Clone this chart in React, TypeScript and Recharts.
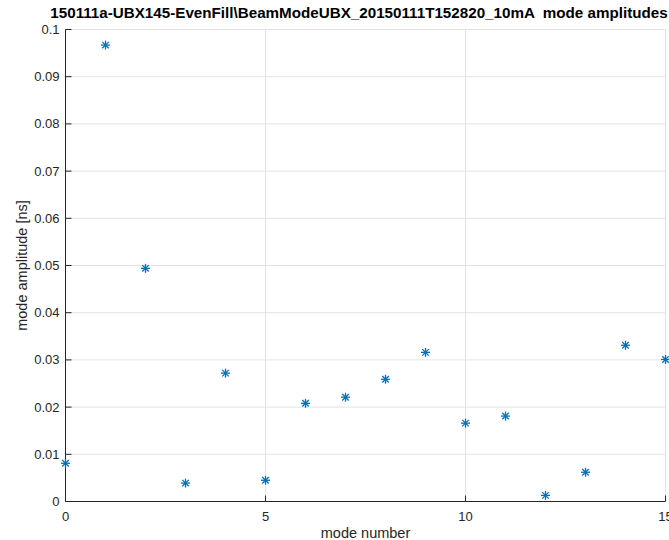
import { ScatterChart, Scatter, XAxis, YAxis, CartesianGrid } from 'recharts'

const modeNumbers = [0, 1, 2, 3, 4, 5, 6, 7, 8, 9, 10, 11, 12, 13, 14, 15]
const amplitudes = [
  0.0081, 0.0967, 0.0494, 0.0039, 0.0272, 0.0045, 0.0208, 0.0221,
  0.0259, 0.0316, 0.0166, 0.0181, 0.0013, 0.0062, 0.0331, 0.0301,
]
const xTicks = [0, 5, 10, 15]
const yTicks = [0, 0.01, 0.02, 0.03, 0.04, 0.05, 0.06, 0.07, 0.08, 0.09, 0.1]

const TITLE = '150111a-UBX145-EvenFill\\BeamModeUBX_20150111T152820_10mA  mode amplitudes'

const data = modeNumbers.map((m, i) => ({ mode: m, amp: amplitudes[i] }))

const W = 669
const H = 540
const LEFT = 65.5
const RIGHT = 665.5
const TOP = 29.5
const BOTTOM = 501.5
const TEXT = '#262626'
const FONT = '"Liberation Sans", Arial, sans-serif'

function Asterisk(props: any) {
  const { cx, cy } = props
  const r = 4.5
  const d = r * 0.72
  return (
    <g stroke="#0072BD" strokeWidth={1.3}>
      <line x1={cx - r} y1={cy} x2={cx + r} y2={cy} />
      <line x1={cx} y1={cy - r} x2={cx} y2={cy + r} />
      <line x1={cx - d} y1={cy - d} x2={cx + d} y2={cy + d} />
      <line x1={cx - d} y1={cy + d} x2={cx + d} y2={cy - d} />
    </g>
  )
}

const fmt = (v: number) => String(+v.toFixed(2))

function YTick(props: any) {
  const { y, payload } = props
  return (
    <g>
      <line x1={LEFT} x2={LEFT + 6} y1={y} y2={y} stroke={TEXT} strokeWidth={1} />
      <text x={LEFT - 6} y={y} dy={4.5} textAnchor="end" fontSize={13} fill={TEXT} fontFamily={FONT}>
        {fmt(payload.value)}
      </text>
    </g>
  )
}

function XTick(props: any) {
  const { x, payload } = props
  return (
    <g>
      <line x1={x} x2={x} y1={BOTTOM} y2={BOTTOM - 6} stroke={TEXT} strokeWidth={1} />
      <text x={x} y={BOTTOM + 19} textAnchor="middle" fontSize={13} fill={TEXT} fontFamily={FONT}>
        {fmt(payload.value)}
      </text>
    </g>
  )
}

export default function App() {
  return (
    <div style={{ position: 'absolute', left: 0, top: 0, width: W, height: H, background: '#fff', overflow: 'hidden' }}>
      <div
        style={{
          position: 'absolute',
          top: 4,
          left: 359 - 400,
          width: 800,
          textAlign: 'center',
          fontFamily: FONT,
          fontWeight: 'bold',
          fontSize: 15.2,
          color: '#000',
          whiteSpace: 'pre',
          zIndex: 2,
        }}
      >
        {TITLE}
      </div>
      <ScatterChart
        width={W}
        height={H}
        margin={{ top: TOP, right: W - RIGHT, bottom: 0, left: 0 }}
      >
        <CartesianGrid stroke="#e3e3e3" strokeWidth={1} />
        <XAxis
          type="number"
          dataKey="mode"
          domain={[0, 15]}
          ticks={xTicks}
          height={H - BOTTOM}
          stroke={TEXT}
          tickLine={false}
          tick={<XTick />}
          interval={0}
          label={{
            content: () => (
              <text x={(LEFT + RIGHT) / 2} y={538} textAnchor="middle" fontSize={14.5} fill={TEXT} fontFamily={FONT}>
                mode number
              </text>
            ),
          }}
        />
        <YAxis
          type="number"
          dataKey="amp"
          domain={[0, 0.1]}
          ticks={yTicks}
          width={LEFT}
          stroke={TEXT}
          tickLine={false}
          tick={<YTick />}
          interval={0}
          label={{
            content: () => (
              <text
                x={27}
                y={(TOP + BOTTOM) / 2}
                transform={`rotate(-90 27 ${(TOP + BOTTOM) / 2})`}
                textAnchor="middle"
                fontSize={14.5}
                fill={TEXT}
                fontFamily={FONT}
              >
                mode amplitude [ns]
              </text>
            ),
          }}
        />
        <Scatter data={data} shape={<Asterisk />} isAnimationActive={false} />
      </ScatterChart>
    </div>
  )
}
